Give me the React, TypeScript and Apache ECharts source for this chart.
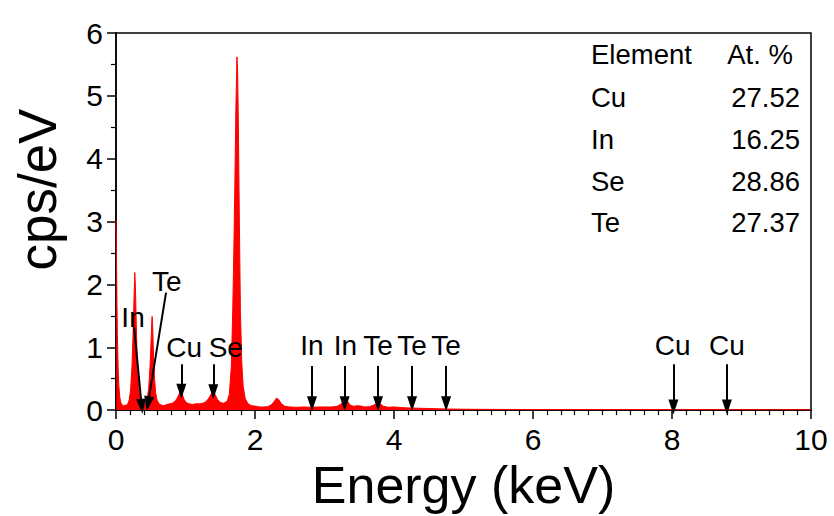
import React, { useEffect, useRef } from "react";
import * as echarts from "echarts";

// Spectrum: [energy keV, cps/eV]
const spectrum: [number, number][] = [
  [0.0, 3.02], [0.005, 2.6], [0.012, 1.9], [0.02, 1.2], [0.03, 0.7], [0.04, 0.4], [0.055, 0.2],
  [0.07, 0.12], [0.09, 0.08], [0.11, 0.07], [0.13, 0.075], [0.15, 0.08], [0.17, 0.1],
  [0.19, 0.16], [0.21, 0.32], [0.23, 0.7], [0.245, 1.2], [0.26, 1.8], [0.27, 2.19],
  [0.28, 1.95], [0.29, 1.45], [0.30, 1.0], [0.315, 0.55], [0.33, 0.3], [0.35, 0.16],
  [0.37, 0.08], [0.39, 0.07], [0.41, 0.08], [0.43, 0.11], [0.45, 0.18], [0.47, 0.35],
  [0.49, 0.7], [0.505, 1.1], [0.515, 1.4], [0.52, 1.49], [0.53, 1.25], [0.54, 0.85],
  [0.555, 0.5], [0.57, 0.28], [0.59, 0.16], [0.62, 0.1], [0.65, 0.08], [0.69, 0.07],
  [0.73, 0.09], [0.77, 0.1], [0.81, 0.11], [0.85, 0.14], [0.88, 0.19], [0.905, 0.25],
  [0.925, 0.29], [0.94, 0.28], [0.96, 0.23], [0.98, 0.17], [1.01, 0.12], [1.05, 0.1],
  [1.1, 0.09], [1.15, 0.1], [1.2, 0.1], [1.25, 0.11], [1.29, 0.13], [1.33, 0.18],
  [1.36, 0.24], [1.39, 0.29], [1.41, 0.28], [1.43, 0.24], [1.46, 0.17], [1.5, 0.12],
  [1.55, 0.11], [1.6, 0.14], [1.63, 0.25], [1.66, 0.7], [1.68, 1.6], [1.695, 2.5],
  [1.71, 3.6], [1.725, 4.8], [1.74, 5.62], [1.75, 5.4], [1.76, 4.6], [1.775, 3.0],
  [1.79, 1.6], [1.81, 0.75], [1.83, 0.38], [1.86, 0.18], [1.9, 0.1], [1.95, 0.07],
  [1.99, 0.065], [2.02, 0.06], [2.06, 0.05], [2.12, 0.05], [2.18, 0.055], [2.23, 0.08],
  [2.27, 0.13], [2.31, 0.19], [2.34, 0.17], [2.38, 0.1], [2.43, 0.06], [2.5, 0.05],
  [2.6, 0.045], [2.7, 0.05], [2.8, 0.045], [2.9, 0.05], [3.0, 0.05], [3.1, 0.05],
  [3.18, 0.06], [3.23, 0.09], [3.27, 0.13], [3.3, 0.16], [3.33, 0.14], [3.37, 0.08],
  [3.42, 0.06], [3.47, 0.07], [3.52, 0.065], [3.58, 0.05], [3.65, 0.055], [3.71, 0.08],
  [3.76, 0.11], [3.8, 0.1], [3.85, 0.06], [3.92, 0.045], [4.0, 0.05], [4.1, 0.04],
  [4.2, 0.035], [4.35, 0.03], [4.5, 0.025], [4.65, 0.02], [4.8, 0.017], [5.0, 0.014],
  [5.3, 0.012], [5.7, 0.01], [6.2, 0.009], [7.0, 0.008], [8.0, 0.008], [8.8, 0.007],
  [9.5, 0.006], [10.0, 0.006],
];

// Peak annotations: [label x, label y, name]
const peakLabels: [number, number, string][] = [
  [0.245, 1.48, "In"], [0.73, 2.05, "Te"], [0.98, 1.0, "Cu"], [1.58, 1.0, "Se"],
  [2.82, 1.02, "In"], [3.3, 1.02, "In"], [3.77, 1.02, "Te"], [4.26, 1.02, "Te"],
  [4.75, 1.02, "Te"], [8.01, 1.02, "Cu"], [8.79, 1.02, "Cu"],
];

// Arrows: [x start, y start, x end, y end]
const arrows: [number, number, number, number][] = [
  [0.26, 1.32, 0.37, 0.06], [0.72, 1.87, 0.46, 0.1],
  [0.94, 0.73, 0.94, 0.3], [1.4, 0.73, 1.4, 0.29],
  [2.82, 0.7, 2.82, 0.1], [3.29, 0.7, 3.29, 0.1], [3.77, 0.7, 3.77, 0.1],
  [4.26, 0.7, 4.26, 0.1], [4.75, 0.7, 4.75, 0.1],
  [8.02, 0.73, 8.02, 0.05], [8.79, 0.73, 8.79, 0.05],
];

const tableHeader = ["Element", "At. %"];
const elements = ["Cu", "In", "Se", "Te"];
const atPercent = ["27.52", "16.25", "28.86", "27.37"];

const FONT = "'Liberation Sans', Arial, sans-serif";

export default function App() {
  const ref = useRef<HTMLDivElement>(null);
  useEffect(() => {
    document.body.style.margin = "0";
    if (!ref.current) return;
    const chart = echarts.init(ref.current, undefined, { renderer: "svg" });
    const tableTexts: any[] = [];
    const rowY = [54, 97.5, 139, 181, 222];
    const fs = 27.5;
    tableTexts.push({
      type: "text", x: 591, y: rowY[0],
      style: { text: tableHeader[0], font: `${fs}px ${FONT}`, fill: "#000", verticalAlign: "middle", align: "left" },
    });
    tableTexts.push({
      type: "text", x: 793, y: rowY[0],
      style: { text: tableHeader[1], font: `${fs}px ${FONT}`, fill: "#000", verticalAlign: "middle", align: "right" },
    });
    elements.forEach((el, i) => {
      tableTexts.push({
        type: "text", x: 591, y: rowY[i + 1],
        style: { text: el, font: `${fs}px ${FONT}`, fill: "#000", verticalAlign: "middle", align: "left" },
      });
      tableTexts.push({
        type: "text", x: 800, y: rowY[i + 1],
        style: { text: atPercent[i], font: `${fs}px ${FONT}`, fill: "#000", verticalAlign: "middle", align: "right" },
      });
    });

    chart.setOption({
      animation: false,
      backgroundColor: "#fff",
      grid: {
        left: 116, right: 23, top: 33, bottom: 105,
        show: true, borderColor: "#000", borderWidth: 1.5,
      },
      xAxis: {
        type: "value", min: 0, max: 10, interval: 2,
        name: "Energy (keV)", nameLocation: "middle", nameGap: 42,
        nameTextStyle: { fontFamily: FONT, fontSize: 52, color: "#000" },
        axisLine: { show: true, lineStyle: { color: "#000", width: 1.5 } },
        axisTick: { show: true, length: 9, lineStyle: { color: "#000", width: 1.5 } },
        minorTick: { show: true, splitNumber: 10, length: 5, lineStyle: { color: "#000", width: 1.2 } },
        axisLabel: { fontFamily: FONT, fontSize: 30, color: "#000", margin: 14 },
        splitLine: { show: false },
      },
      yAxis: {
        type: "value", min: 0, max: 6, interval: 1,
        name: "cps/eV", nameLocation: "middle", nameGap: 52,
        nameTextStyle: { fontFamily: FONT, fontSize: 53, color: "#000", padding: [0, 0, 0, 64] },
        axisLine: { show: true, lineStyle: { color: "#000", width: 1.5 } },
        axisTick: { show: true, length: 9, lineStyle: { color: "#000", width: 1.5 } },
        minorTick: { show: true, splitNumber: 2, length: 5, lineStyle: { color: "#000", width: 1.2 } },
        axisLabel: { fontFamily: FONT, fontSize: 30, color: "#000", margin: 13 },
        splitLine: { show: false },
      },
      series: [
        {
          type: "line",
          data: spectrum,
          symbol: "none",
          lineStyle: { color: "#ff0000", width: 1 },
          areaStyle: { color: "#ff0000", opacity: 1 },
          silent: true,
          z: 2,
          markLine: {
            silent: true,
            symbol: ["none", "triangle"],
            symbolSize: [10, 15],
            label: { show: false },
            lineStyle: { color: "#000", width: 2, type: "solid" },
            emphasis: { disabled: true },
            data: arrows.map((a) => [
              { coord: [a[0], a[1]] },
              { coord: [a[2], a[3]] },
            ]),
          },
        },
        {
          type: "scatter",
          data: peakLabels,
          symbolSize: 1,
          silent: true,
          z: 10,
          itemStyle: { color: "rgba(0,0,0,0)", opacity: 1 },
          label: {
            show: true,
            position: "inside",
            formatter: (p: any) => p.data[2],
            fontFamily: FONT,
            fontSize: 28,
            color: "#000",
            opacity: 1,
          },
        },
      ],
      graphic: tableTexts,
    });
    return () => chart.dispose();
  }, []);
  return <div ref={ref} style={{ width: 834, height: 516 }} />;
}
